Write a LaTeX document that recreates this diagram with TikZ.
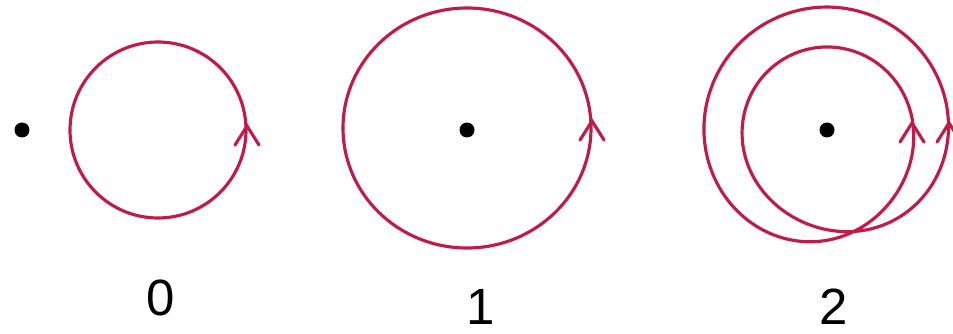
\documentclass[tikz,border=0pt]{standalone}
\usepackage{fontspec}
\setmainfont{Liberation Sans}
\definecolor{curvecol}{RGB}{192,28,74}
\tikzset{
  curve/.style={draw=curvecol, line width=1.8pt},
  dot/.style={circle, fill=black, inner sep=0pt, minimum size=0.30cm},
  lbl/.style={anchor=base, font=\fontsize{29}{34}\selectfont, inner sep=0pt},
  upbarb/.pic={\draw[curve, line cap=round, line join=miter] (-12,19) -- (0,0) -- (12,19);}
}
\begin{document}
\begin{tikzpicture}[x=0.02cm, y=-0.02cm,
  declare function={spirad(\t)=104-20*tanh(2*sin((\t+75)/2))/tanh(2);}]
\useasboundingbox (0,0) rectangle (953,334);
% figure 0
\node[dot] (d0) at (22,130) {};
\draw[curve] (158,130) ellipse [x radius=88, y radius=88];
\pic at (247,126) {upbarb};
\node[lbl] (l0) at (161,315) {0};
% figure 1
\node[dot] (d1) at (467,130) {};
\draw[curve] (467,128) ellipse [x radius=124, y radius=120];
\pic at (592,121) {upbarb};
\node[lbl] (l1) at (481,324) {1};
% figure 2
\node[dot] (d2) at (827,130) {};
\draw[curve] plot[smooth, domain=-75:645, samples=181, variable=\t]
  ({827+spirad(\t)*cos(\t)}, {131-spirad(\t)*sin(\t)});
\pic at (912,123) {upbarb};
\pic at (949,123) {upbarb};
\node[lbl] (l2) at (834,324) {2};
\end{tikzpicture}
\end{document}
